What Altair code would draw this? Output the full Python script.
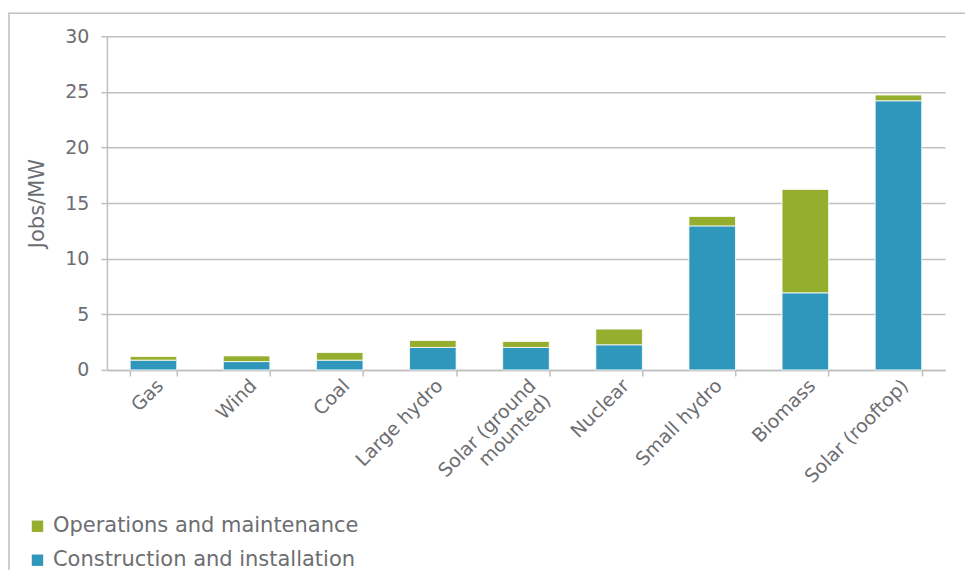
import altair as alt
import pandas as pd

categories = ["Gas", "Wind", "Coal", "Large hydro", "Solar (ground mounted)",
              "Nuclear", "Small hydro", "Biomass", "Solar (rooftop)"]
construction = [0.88, 0.75, 0.88, 2.02, 2.02, 2.26, 12.95, 6.93, 24.2]
operations = [0.32, 0.51, 0.68, 0.63, 0.54, 1.41, 0.85, 9.3, 0.52]
series = ["Operations and maintenance", "Construction and installation"]
colors = ["#95AE2E", "#2E97BB"]

rows = []
for c, con, op in zip(categories, construction, operations):
    rows.append({"cat": c, "series": series[1], "value": con, "ord": 0})
    rows.append({"cat": c, "series": series[0], "value": op, "ord": 1})
df = pd.DataFrame(rows)

FONT = "DejaVu Sans"
TXT = "#6D6E71"
GRID = "#BFBFBF"

bars = alt.Chart(df).mark_bar(stroke="white", strokeWidth=0.8).encode(
    x=alt.X("cat:N", sort=categories, title=None,
            scale=alt.Scale(paddingInner=0.5, paddingOuter=0.25),
            axis=alt.Axis(labelAngle=-45, labelFontSize=19, labelColor=TXT,
                          labelFont=FONT, tickBand="extent", tickSize=6,
                          tickColor=GRID, domainColor=GRID, domainWidth=1.5,
                          tickWidth=1.5, labelPadding=0, labelLimit=400,
                          labelExpr="datum.label == 'Solar (ground mounted)' ? ['Solar (ground', 'mounted)'] : datum.label")),
    y=alt.Y("value:Q", stack="zero", title="Jobs/MW",
            scale=alt.Scale(domain=[0, 30]),
            axis=alt.Axis(values=[0, 5, 10, 15, 20, 25, 30], labelFontSize=19,
                          labelColor=TXT, labelFont=FONT, titleFont=FONT,
                          titleFontSize=21, titleColor=TXT, titleFontWeight="normal",
                          tickColor=GRID, tickSize=6, tickWidth=1.5,
                          domainColor=GRID, domainWidth=1.5, gridColor=GRID,
                          gridWidth=1.5, labelPadding=12, titlePadding=17)),
    color=alt.Color("series:N", scale=alt.Scale(domain=series, range=colors),
                    legend=alt.Legend(title=None, orient="none", legendX=-80,
                                      legendY=480, direction="vertical",
                                      symbolType="square", symbolSize=130,
                                      symbolStrokeWidth=0, labelFontSize=21,
                                      labelFont=FONT, labelColor=TXT,
                                      labelLimit=500, rowPadding=12, labelOffset=5)),
    order=alt.Order("ord:Q"),
)

frame = alt.Chart(pd.DataFrame({"a": [0]})).mark_rect(
    fill=None, stroke="#BFBFBF", strokeWidth=1.5
).encode(x=alt.value(-98), x2=alt.value(870), y=alt.value(-23), y2=alt.value(600))

chart = alt.layer(frame, bars).properties(
    width=839, height=334,
    autosize=alt.AutoSizeParams(type="none"),
    padding={"left": 99, "top": 28, "right": 20, "bottom": 200},
).configure_view(stroke=None)

chart.save("out.html", embed_options={"renderer": "svg", "actions": False})
